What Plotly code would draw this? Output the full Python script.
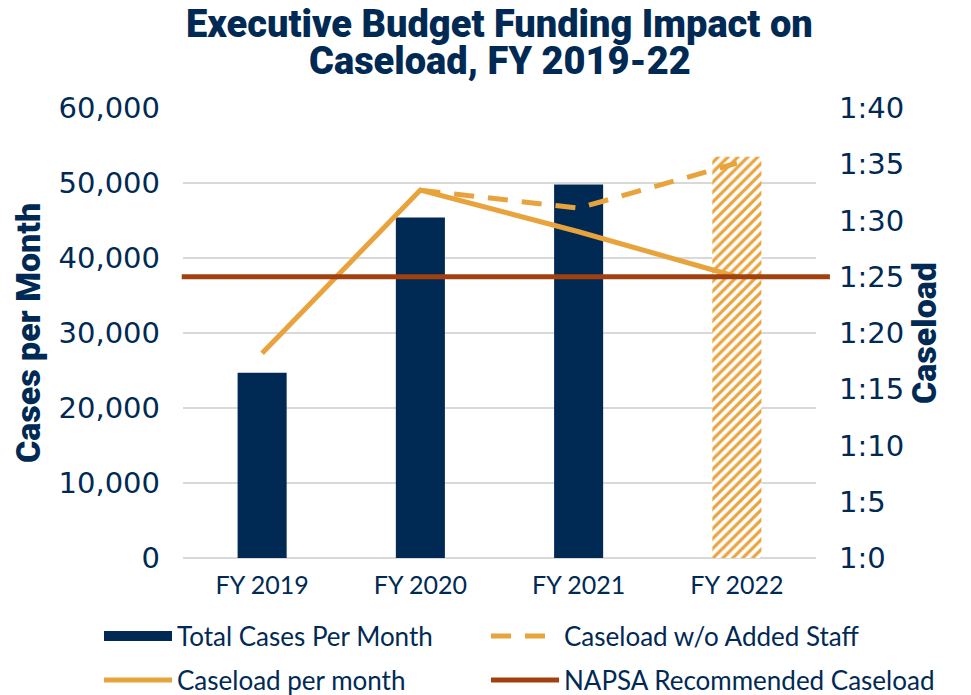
import plotly.graph_objects as go

# data
years = ["FY 2019", "FY 2020", "FY 2021", "FY 2022"]
total_cases = [24700, 45400, 49800, 53500]
caseload_per_month = [18.2, 32.7, 29.0, 25.0]
years_no_staff = ["FY 2020", "FY 2021", "FY 2022"]
caseload_no_staff = [32.7, 31.1, 35.1]
napsa_caseload = 25

left_ticks = [0, 10000, 20000, 30000, 40000, 50000, 60000]
right_ticks = [0, 5, 10, 15, 20, 25, 30, 35, 40]
right_labels = ["1:0", "1:5", "1:10", "1:15", "1:20", "1:25", "1:30", "1:35", "1:40"]
title_lines = ["Executive Budget Funding Impact on", "Caseload, FY 2019-22"]

NAVY = "#002a54"
ORANGE = "#e8a33d"
RUST = "#a3400f"
GRID = "#d9d9d9"

tick_font = dict(family="DejaVu Sans", size=29, color=NAVY)
xtick_font = dict(family="Lato", size=25, color=NAVY)
legend_font = dict(family="Lato", size=26, color=NAVY)
heavy_font = dict(family="Roboto", size=34, color=NAVY, weight=900)
title_font = dict(family="Roboto", size=38, color=NAVY, weight=900)

# page body adds an 8px offset, so the figure is 8px smaller than the window
W, H = 963, 687
M_L, M_R, M_T, M_B = 175, 155, 100, 137
PLOT_H = H - M_T - M_B

fig = go.Figure()

# actual years (solid navy)
fig.add_trace(go.Bar(
    x=years[:3], y=total_cases[:3], width=0.31,
    marker=dict(color=NAVY, line=dict(width=0)),
    showlegend=False,
))
# projected year (hatched)
fig.add_trace(go.Bar(
    x=years[3:], y=total_cases[3:], width=0.31,
    marker=dict(
        color=ORANGE, line=dict(width=0),
        pattern=dict(shape="/", fillmode="replace", fgcolor=ORANGE,
                     bgcolor="white", size=7, solidity=0.45),
    ),
    showlegend=False,
))

# legend-only entry for the bars (wide navy swatch)
fig.add_trace(go.Scatter(
    x=[None], y=[None], mode="lines", line=dict(color=NAVY, width=12),
    name="Total Cases Per Month", legend="legend",
))

fig.add_trace(go.Scatter(
    x=years_no_staff, y=caseload_no_staff, yaxis="y2",
    mode="lines", line=dict(color=ORANGE, width=5, dash="20px,14px"),
    name="Caseload w/o Added Staff", legend="legend2",
))

fig.add_trace(go.Scatter(
    x=years, y=caseload_per_month, yaxis="y2",
    mode="lines", line=dict(color=ORANGE, width=5),
    name="Caseload per month", legend="legend3",
))

fig.add_shape(
    type="line", xref="paper", x0=-0.002, x1=1.022,
    yref="y2", y0=napsa_caseload, y1=napsa_caseload,
    line=dict(color=RUST, width=5), layer="above",
    showlegend=True, name="NAPSA Recommended Caseload", legend="legend4",
)

for txt, yc in zip(title_lines, [16, 53]):
    fig.add_annotation(
        text=txt, xref="paper", x=0.5, xanchor="center",
        yref="paper", y=1 + (M_T - yc) / PLOT_H, yanchor="middle",
        showarrow=False, font=title_font,
    )


def legend_box(x_px, y_px):
    return dict(
        orientation="h", xref="container", yref="container",
        x=x_px / W, y=1 - y_px / H, xanchor="left", yanchor="middle",
        font=legend_font, itemwidth=68, bgcolor="rgba(0,0,0,0)",
    )


fig.update_layout(
    width=W, height=H,
    margin=dict(l=M_L, r=M_R, t=M_T, b=M_B),
    paper_bgcolor="white", plot_bgcolor="white",
    barmode="overlay",
    xaxis=dict(
        type="category", categoryarray=years, showgrid=False, showline=False,
        ticks="", tickfont=xtick_font, ticklabelstandoff=10, automargin=False,
    ),
    yaxis=dict(
        range=[0, 60000], tickvals=left_ticks, tickformat=",",
        showgrid=True, gridcolor=GRID, gridwidth=2,
        zeroline=True, zerolinecolor=GRID, zerolinewidth=2,
        tickfont=tick_font, ticklabelstandoff=22, automargin=False,
        title=dict(text="Cases per Month", font=heavy_font, standoff=10),
    ),
    yaxis2=dict(
        overlaying="y", side="right", range=[0, 40],
        tickvals=right_ticks, ticktext=right_labels,
        showgrid=False, zeroline=False,
        tickfont=tick_font, ticklabelstandoff=22, automargin=False,
        title=dict(text="Caseload", font=heavy_font, standoff=6),
    ),
    legend=legend_box(91, 628),
    legend2=legend_box(478, 628),
    legend3=legend_box(91, 672),
    legend4=legend_box(478, 672),
)

fig.write_html("out.html")
